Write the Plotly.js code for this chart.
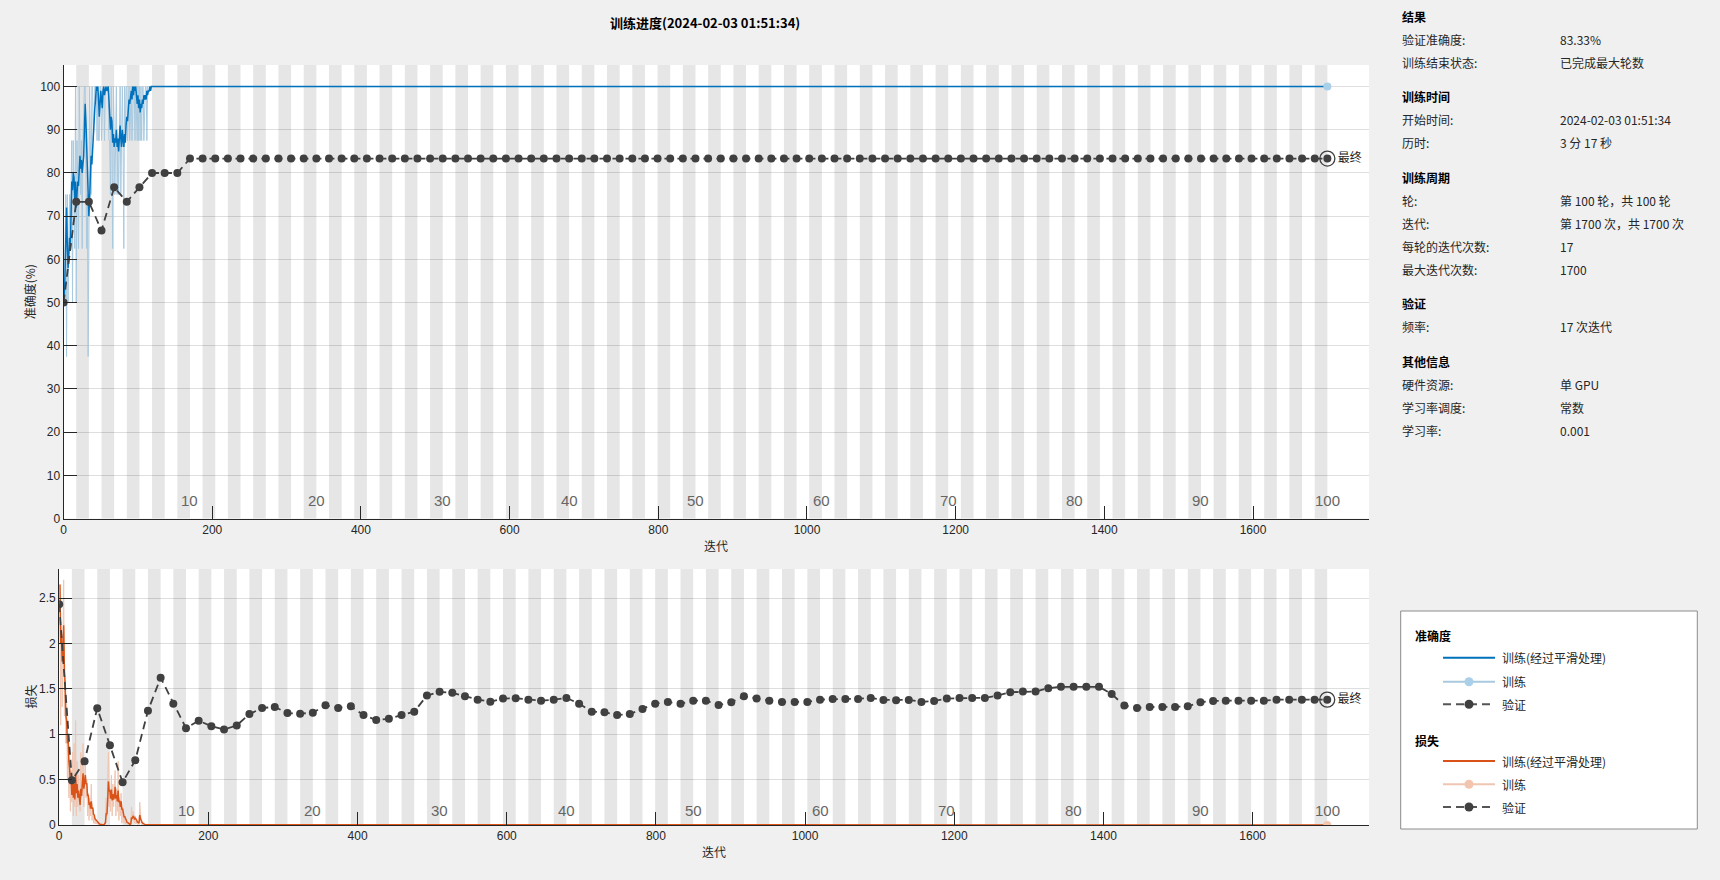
<!DOCTYPE html>
<html><head><meta charset="utf-8">
<script src="https://cdn.plot.ly/plotly-3.0.1.min.js"></script>
<style>html,body{margin:0;padding:0;background:#f0f0f0;overflow:hidden}#chart{width:1720px;height:880px}</style>
</head><body><div id="chart"></div>
<script>
// ---------------- DATA ----------------
// training mini-batch accuracy (%) for iterations 1..125 (after that it stays at 100)
const accRaw = [50,62.5,75,37.5,75,50,62.5,75,62.5,87.5,87.5,50,87.5,75,62.5,100,50,87.5,75,62.5,
100,87.5,75,87.5,62.5,87.5,100,100,100,87.5,62.5,75,37.5,62.5,100,87.5,75,100,100,87.5,
100,100,100,100,87.5,100,87.5,87.5,100,100,87.5,100,100,100,87.5,100,100,100,100,100,
87.5,87.5,75,100,87.5,62.5,100,87.5,75,87.5,100,75,87.5,75,100,100,75,87.5,100,87.5,
62.5,100,87.5,100,100,87.5,100,100,87.5,100,100,87.5,100,100,100,87.5,100,87.5,87.5,100,
87.5,100,87.5,100,87.5,100,100,87.5,100,100,100,87.5,100,100,100,100,100,100,100,100,
100,100,100,100,100];
const accSmooth = [50,58,66,72,63,58,61,65,62,70,78,76,80,79,74,78,72,75,78,77,
82,84,81,83,80,82,84,90,96,92,85,80,76,70,74,82,84,82,86,90,
93,95,97,100,99,100,97,93,96,99,97,95,99,100,98,100,100,99,100,100,
97,93,90,93,92,87,89,86,88,87,90,86,88,85,87,91,88,86,90,88,
86,89,87,91,93,92,95,97,96,98,99,97,100,98,100,99,100,98,96,98,
95,97,94,96,95,97,96,98,97,98,97,99,98,99,99,100,99,100,100,100,
100,100,100,100,100];
// training mini-batch loss for iterations 1..125
const lossRaw = [2.65,1.1,2.2,1.3,1.9,2.7,1.2,1.6,0.9,1.3,0.5,1.0,0.3,0.7,0.15,0.6,0.25,0.8,0.1,0.9,
0.2,1.15,0.1,0.7,0.2,0.55,0.3,0.15,0.8,0.3,0.65,0.9,0.2,0.6,0.75,0.3,0.5,0.1,0.35,0.05,
0.3,0.1,0.45,0.05,0.2,0.02,0.1,0.01,0.05,0.01,0.02,0.005,0.01,0.003,0.005,0.002,0.004,0.002,0.003,0.001,
0.02,0.05,0.3,0.1,0.5,0.8,0.2,0.4,0.15,0.55,0.1,0.45,0.2,0.35,0.6,0.1,0.4,0.15,0.7,0.05,
0.3,0.1,0.35,0.02,0.2,0.05,0.02,0.1,0.01,0.03,0.005,0.01,0.002,0.005,0.001,0.02,0.2,0.05,0.15,0.08,
0.02,0.1,0.01,0.05,0.005,0.02,0.003,0.25,0.01,0.005,0.01,0.003,0.002,0.001,0.001,0.001,0.001,0.001,0.001,0.001,
0.001,0.001,0.001,0.001,0.001];
const lossSmooth = [2.65,2.0,2.1,1.8,1.85,2.2,1.7,1.55,1.2,1.15,0.9,0.95,0.7,0.62,0.45,0.5,0.33,0.48,0.3,0.45,
0.28,0.55,0.35,0.45,0.3,0.38,0.3,0.22,0.4,0.32,0.45,0.57,0.4,0.45,0.55,0.45,0.46,0.32,0.33,0.22,
0.25,0.18,0.26,0.18,0.19,0.12,0.11,0.07,0.06,0.04,0.03,0.02,0.015,0.01,0.008,0.005,0.005,0.004,0.003,0.002,
0.01,0.025,0.13,0.12,0.27,0.48,0.37,0.38,0.29,0.39,0.27,0.34,0.28,0.31,0.42,0.29,0.33,0.26,0.38,0.25,
0.27,0.2,0.26,0.17,0.18,0.13,0.09,0.09,0.06,0.05,0.03,0.025,0.015,0.01,0.006,0.012,0.085,0.07,0.1,0.09,
0.06,0.08,0.05,0.05,0.03,0.03,0.02,0.11,0.07,0.04,0.03,0.02,0.012,0.008,0.005,0.004,0.003,0.002,0.002,0.002,
0.002,0.002,0.002,0.002,0.002];
// last training iteration (values flat from iteration 125 on)
const tailIter = [1700];
const accRawTail = [100];
const accSmoothTail = [100];
const lossRawTail = [0.001];
const lossSmoothTail = [0.001];

// validation every 17 iterations: iterations 0,17,...,1700
const valIter = [0,17,34,51,68,85,102,119,136,153,170,187,204,221,238,255,272,289,306,323,
340,357,374,391,408,425,442,459,476,493,510,527,544,561,578,595,612,629,646,663,
680,697,714,731,748,765,782,799,816,833,850,867,884,901,918,935,952,969,986,1003,
1020,1037,1054,1071,1088,1105,1122,1139,1156,1173,1190,1207,1224,1241,1258,1275,1292,1309,1326,1343,
1360,1377,1394,1411,1428,1445,1462,1479,1496,1513,1530,1547,1564,1581,1598,1615,1632,1649,1666,1683,1700];
const valAcc = [50,73.33,73.33,66.67,76.67,73.33,76.67,80,80,80,
83.33,83.33,83.33,83.33,83.33,83.33,83.33,83.33,83.33,83.33,
83.33,83.33,83.33,83.33,83.33,83.33,83.33,83.33,83.33,83.33,
83.33,83.33,83.33,83.33,83.33,83.33,83.33,83.33,83.33,83.33,
83.33,83.33,83.33,83.33,83.33,83.33,83.33,83.33,83.33,83.33,
83.33,83.33,83.33,83.33,83.33,83.33,83.33,83.33,83.33,83.33,
83.33,83.33,83.33,83.33,83.33,83.33,83.33,83.33,83.33,83.33,
83.33,83.33,83.33,83.33,83.33,83.33,83.33,83.33,83.33,83.33,
83.33,83.33,83.33,83.33,83.33,83.33,83.33,83.33,83.33,83.33,
83.33,83.33,83.33,83.33,83.33,83.33,83.33,83.33,83.33,83.33,83.33];
const valLoss = [2.433,0.492,0.702,1.287,0.878,0.470,0.713,1.259,1.622,1.337,
1.067,1.148,1.089,1.052,1.096,1.222,1.289,1.300,1.233,1.226,
1.237,1.319,1.289,1.307,1.211,1.156,1.170,1.211,1.248,1.426,
1.467,1.456,1.419,1.381,1.359,1.393,1.396,1.381,1.370,1.381,
1.400,1.337,1.248,1.241,1.211,1.222,1.278,1.337,1.356,1.337,
1.370,1.370,1.322,1.352,1.419,1.393,1.370,1.356,1.356,1.356,
1.381,1.389,1.389,1.389,1.400,1.378,1.374,1.378,1.356,1.367,
1.393,1.400,1.400,1.400,1.426,1.463,1.470,1.470,1.507,1.522,
1.522,1.522,1.522,1.444,1.315,1.289,1.300,1.300,1.300,1.307,
1.352,1.367,1.370,1.370,1.370,1.370,1.381,1.381,1.381,1.381,1.381];

const numEpochs = 100;
const itersPerEpoch = 17;
const epochLabels = ['10','20','30','40','50','60','70','80','90','100'];
const xTicks = [0,200,400,600,800,1000,1200,1400,1600];
const accTicks = [0,10,20,30,40,50,60,70,80,90,100];
const lossTicks = [0,0.5,1,1.5,2,2.5];
const lossTickText = ['0','0.5','1','1.5','2','2.5'];

const infoRows = [
  ['h','结果'],
  ['r','验证准确度:','83.33%'],
  ['r','训练结束状态:','已完成最大轮数'],
  ['h','训练时间'],
  ['r','开始时间:','2024-02-03 01:51:34'],
  ['r','历时:','3 分 17 秒'],
  ['h','训练周期'],
  ['r','轮:','第 100 轮，共 100 轮'],
  ['r','迭代:','第 1700 次，共 1700 次'],
  ['r','每轮的迭代次数:','17'],
  ['r','最大迭代次数:','1700'],
  ['h','验证'],
  ['r','频率:','17 次迭代'],
  ['h','其他信息'],
  ['r','硬件资源:','单 GPU'],
  ['r','学习率调度:','常数'],
  ['r','学习率:','0.001']
];
const infoY = [16,40,62.3,96.7,119.3,142.7,177.7,200.7,223.3,246.7,269.3,303.3,326,361.7,384.3,407.3,430];

// ---------------- STYLE / LAYOUT ----------------
const W = 1720, H = 880;
const PX = x => x / W, PY = y => 1 - y / H;
const CJK = '"Noto Sans CJK SC", "Liberation Sans", sans-serif';
const NUM = '"Liberation Sans", Arial, sans-serif';
const TXT = '#262626';
const BLUE = '#0072bd', BLUE_L = '#a9c9df', BLUE_M = '#a9cfe9';
const ORG = '#d95319', ORG_L = '#efc6b2', ORG_M = '#f3c5ae';
const VAL = '#404040';

const trainIter = accRaw.map((_, i) => i + 1).concat(tailIter);
const lastVal = valIter.length - 1;

function valTraces(xa, ya, yv) {
  return [
    {x: valIter, y: yv, xaxis: xa, yaxis: ya, mode: 'lines+markers', type: 'scatter',
     line: {color: VAL, width: 1.8, dash: '8px,5px'}, marker: {color: VAL, size: 8}, hoverinfo: 'skip'},
    {x: [valIter[lastVal]], y: [yv[lastVal]], xaxis: xa, yaxis: ya, mode: 'markers+text', type: 'scatter',
     marker: {symbol: 'circle-open', size: 15, color: VAL, line: {width: 1.3, color: VAL}},
     text: ['最终'], textposition: 'middle right', textfont: {family: CJK, size: 12, color: TXT}, hoverinfo: 'skip'}
  ];
}

const traces = [
  {x: trainIter, y: accRaw.concat(accRawTail), xaxis: 'x', yaxis: 'y', mode: 'lines', type: 'scatter',
   line: {color: BLUE_L, width: 1}, hoverinfo: 'skip'},
  {x: trainIter, y: accSmooth.concat(accSmoothTail), xaxis: 'x', yaxis: 'y', mode: 'lines', type: 'scatter',
   line: {color: BLUE, width: 1.5}, hoverinfo: 'skip'},
  {x: tailIter, y: accRawTail, xaxis: 'x', yaxis: 'y', mode: 'markers', type: 'scatter',
   marker: {color: BLUE_M, size: 8}, hoverinfo: 'skip'},
  ...valTraces('x', 'y', valAcc),
  {x: trainIter, y: lossRaw.concat(lossRawTail), xaxis: 'x2', yaxis: 'y2', mode: 'lines', type: 'scatter',
   line: {color: ORG_L, width: 1}, hoverinfo: 'skip'},
  {x: trainIter, y: lossSmooth.concat(lossSmoothTail), xaxis: 'x2', yaxis: 'y2', mode: 'lines', type: 'scatter',
   line: {color: ORG, width: 1.5}, hoverinfo: 'skip'},
  {x: tailIter, y: lossRawTail, xaxis: 'x2', yaxis: 'y2', mode: 'markers', type: 'scatter',
   marker: {color: ORG_M, size: 8}, hoverinfo: 'skip'},
  ...valTraces('x2', 'y2', valLoss)
];

const xRange = [0, 1756];
function xAxis(dom, anchor) {
  return {domain: dom, anchor: anchor, range: xRange, tickvals: xTicks, ticks: 'inside', ticklen: 13,
    tickcolor: TXT, tickwidth: 1, showline: true, linecolor: TXT, linewidth: 1, showgrid: false,
    zeroline: false, tickfont: {family: NUM, size: 12, color: TXT}, fixedrange: true};
}
function yAxis(dom, anchor, range, tv, tt) {
  const a = {domain: dom, anchor: anchor, range: range, tickvals: tv, ticks: 'inside', ticklen: 13,
    tickcolor: TXT, tickwidth: 1, showline: true, linecolor: TXT, linewidth: 1, showgrid: true,
    gridcolor: 'rgba(0,0,0,0.13)', gridwidth: 1, zeroline: false,
    tickfont: {family: NUM, size: 12, color: TXT}, fixedrange: true};
  if (tt) a.ticktext = tt;
  return a;
}

const shapes = [];
for (let k = 1; k <= numEpochs; k++) {
  if (k % 2 === 0) {
    [['x', 'y domain'], ['x2', 'y2 domain']].forEach(([xr, yr]) => {
      shapes.push({type: 'rect', xref: xr, yref: yr, x0: (k - 1) * itersPerEpoch, x1: k * itersPerEpoch,
        y0: 0, y1: 1, fillcolor: '#e6e6e6', line: {width: 0}, layer: 'below'});
    });
  }
}

const annotations = [];
function note(text, x, y, font, extra) {
  annotations.push(Object.assign({text: text, xref: 'paper', yref: 'paper', x: PX(x), y: PY(y),
    xanchor: 'center', yanchor: 'middle', showarrow: false, font: font}, extra || {}));
}
// epoch labels
epochLabels.forEach(lbl => {
  const it = Number(lbl) * itersPerEpoch;
  annotations.push({text: lbl, xref: 'x', yref: 'y domain', x: it, y: 0, xanchor: 'center', yanchor: 'bottom', yshift: 8,
    showarrow: false, font: {family: NUM, size: 15, color: '#666666'}});
  annotations.push({text: lbl, xref: 'x2', yref: 'y2 domain', x: it, y: 0, xanchor: 'center', yanchor: 'bottom', yshift: 4,
    showarrow: false, font: {family: NUM, size: 15, color: '#666666'}});
});
// titles
note('<b>训练进度(2024-02-03 01:51:34)</b>', 705, 23, {family: CJK, size: 13, color: '#000'});
note('准确度(%)', 29.6, 291.7, {family: CJK, size: 12, color: TXT}, {textangle: -90});
note('损失', 29.6, 697, {family: CJK, size: 12, color: TXT}, {textangle: -90});
note('迭代', 716, 545, {family: CJK, size: 12, color: TXT});
note('迭代', 714, 851, {family: CJK, size: 12, color: TXT});
// info panel
infoRows.forEach((r, i) => {
  if (r[0] === 'h') {
    note('<b>' + r[1] + '</b>', 1400, infoY[i], {family: CJK, size: 12, color: '#000'}, {xanchor: 'left'});
  } else {
    note(r[1], 1400, infoY[i], {family: CJK, size: 12, color: TXT}, {xanchor: 'left'});
    note(r[2], 1557.7, infoY[i], {family: CJK, size: 12, color: TXT}, {xanchor: 'left'});
  }
});

// legend box
shapes.push({type: 'rect', xref: 'paper', yref: 'paper', x0: PX(1400.7), x1: PX(1697.3), y0: PY(829), y1: PY(611),
  fillcolor: '#ffffff', line: {color: '#8c8c8c', width: 1}, layer: 'above'});
const legItems = [
  {head: '准确度', y: 635},
  {y: 657.7, color: BLUE, label: '训练(经过平滑处理)'},
  {y: 681.7, color: BLUE_L, mcolor: BLUE_M, label: '训练'},
  {y: 704.3, color: VAL, mcolor: VAL, dash: true, label: '验证'},
  {head: '损失', y: 740},
  {y: 761, color: ORG, label: '训练(经过平滑处理)'},
  {y: 784.3, color: ORG_L, mcolor: ORG_M, label: '训练'},
  {y: 807, color: VAL, mcolor: VAL, dash: true, label: '验证'}
];
legItems.forEach(it => {
  if (it.head) {
    note('<b>' + it.head + '</b>', 1412.7, it.y, {family: CJK, size: 12, color: '#000'}, {xanchor: 'left'});
    return;
  }
  shapes.push({type: 'line', xref: 'paper', yref: 'paper', x0: PX(1443), x1: PX(1495), y0: PY(it.y), y1: PY(it.y),
    line: {color: it.dash ? '#555555' : it.color, width: 2, dash: it.dash ? '8px,5px' : 'solid'}, layer: 'above'});
  if (it.mcolor) {
    const r = 4.5;
    shapes.push({type: 'circle', xref: 'paper', yref: 'paper', x0: PX(1469 - r), x1: PX(1469 + r),
      y0: PY(it.y + r), y1: PY(it.y - r), fillcolor: it.mcolor, line: {width: 0}, layer: 'above'});
  }
  note(it.label, 1500, it.y, {family: CJK, size: 12, color: TXT}, {xanchor: 'left'});
});

const layout = {
  width: W, height: H, margin: {l: 0, r: 0, t: 0, b: 0},
  paper_bgcolor: '#f0f0f0', plot_bgcolor: '#ffffff', showlegend: false,
  xaxis: xAxis([PX(63.6), PX(1369)], 'y'),
  yaxis: yAxis([PY(518.5), PY(65)], 'x', [0, 105], accTicks),
  xaxis2: xAxis([PX(59.2), PX(1369)], 'y2'),
  yaxis2: yAxis([PY(825), PY(569)], 'x2', [0, 2.82], lossTicks, lossTickText),
  shapes: shapes, annotations: annotations, font: {family: CJK}
};

Plotly.newPlot('chart', traces, layout, {displayModeBar: false, staticPlot: true});
</script>
</body></html>
